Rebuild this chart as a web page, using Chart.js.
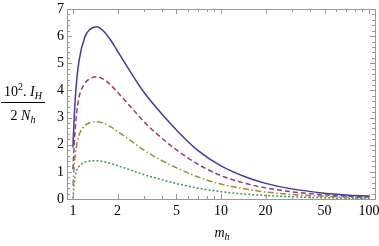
<!DOCTYPE html>
<html>
<head>
<meta charset="utf-8">
<script src="https://cdn.jsdelivr.net/npm/chart.js@4.4.1/dist/chart.umd.min.js"></script>
<style>body{margin:0;background:#fff}</style>
</head>
<body>
<canvas id="myChart" width="379" height="246"></canvas>
<script>
// values
const mValues=[1,1.02,1.05,1.1,1.2,1.3,1.45,1.6,1.8,2,2.5,3,4,5,7,10,15,20,30,50,70,100];
const curveSolid=[1.9,3.0,4.1,5.1,5.95,6.25,6.35,6.2,5.85,5.45,4.6,3.95,3.12,2.54,1.78,1.22,0.79,0.575,0.373,0.216,0.151,0.105];
const curveDashed=[1.1,2.0,2.95,3.75,4.25,4.43,4.5,4.42,4.2,3.93,3.35,2.86,2.23,1.81,1.28,0.86,0.56,0.41,0.265,0.153,0.107,0.075];
const curveDashDot=[0.5,1.25,1.85,2.35,2.7,2.81,2.85,2.8,2.66,2.49,2.12,1.81,1.41,1.15,0.81,0.55,0.36,0.26,0.17,0.098,0.068,0.048];
const curveDotted=[0.02,0.6,0.98,1.2,1.35,1.4,1.41,1.38,1.31,1.23,1.05,0.9,0.71,0.57,0.4,0.27,0.175,0.13,0.084,0.048,0.034,0.024];

const xTickValues=[1,2,3,4,5,6,7,8,9,10,20,30,40,50,60,70,80,90,100];
const xTickLabels=[1,2,5,10,20,50,100];
const yTickLabels=[0,1,2,3,4,5,6,7];

const serif='"Liberation Serif", "DejaVu Serif", serif';
const toPoints=(ys)=>mValues.map((m,i)=>({x:m,y:ys[i]}));

const lineSet=(data,color,dash)=>({
    data:toPoints(data),
    borderColor:color,
    borderWidth:1.5,
    borderDash:dash,
    pointRadius:0,
    fill:false,
    cubicInterpolationMode:'monotone'
});

// frame with inward ticks, like the original
const framePlugin={
    id:'frame',
    afterDraw(chart){
        const {ctx,chartArea:a,scales:{x,y}}=chart;
        ctx.save();
        ctx.strokeStyle='#999';
        ctx.lineWidth=1;
        ctx.strokeRect(Math.round(a.left)+0.5,Math.round(a.top)+0.5,Math.round(a.right-a.left),Math.round(a.bottom-a.top));
        ctx.beginPath();
        for(const t of x.ticks){
            const px=Math.round(x.getPixelForValue(t.value))+0.5;
            const len=xTickLabels.includes(t.value)?5:3;
            ctx.moveTo(px,a.bottom);ctx.lineTo(px,a.bottom-len);
            ctx.moveTo(px,a.top);ctx.lineTo(px,a.top+len);
        }
        for(const t of y.ticks){
            const py=Math.round(y.getPixelForValue(t.value))+0.5;
            const len=yTickLabels.includes(t.value)?5:3;
            ctx.moveTo(a.left,py);ctx.lineTo(a.left+len,py);
            ctx.moveTo(a.right,py);ctx.lineTo(a.right-len,py);
        }
        ctx.stroke();
        ctx.restore();
    }
};

// axis titles drawn as pieces (sub/superscripts)
const drawPieces=(ctx,pieces,cx,baseline)=>{
    let w=0;
    for(const p of pieces){ctx.font=p.font;w+=ctx.measureText(p.t).width;}
    let xx=cx-w/2;
    for(const p of pieces){
        ctx.font=p.font;
        ctx.fillText(p.t,xx,baseline+(p.dy||0));
        xx+=ctx.measureText(p.t).width;
    }
    return w;
};

const titlePlugin={
    id:'titles',
    afterDraw(chart){
        const ctx=chart.ctx;
        ctx.save();
        ctx.fillStyle='#000';
        ctx.textBaseline='alphabetic';
        ctx.textAlign='left';
        const n=`14px ${serif}`, s=`10px ${serif}`, ni=`italic 14px ${serif}`, si=`italic 10px ${serif}`;
        drawPieces(ctx,[{t:'10',font:n},{t:'2',font:s,dy:-6},{t:'. ',font:n},{t:'I',font:ni},{t:'H',font:si,dy:3}],23,96);
        ctx.strokeStyle='#000';
        ctx.lineWidth=1;
        ctx.beginPath();ctx.moveTo(1,102.5);ctx.lineTo(45,102.5);ctx.stroke();
        drawPieces(ctx,[{t:'2 ',font:n},{t:'N',font:ni},{t:'h',font:si,dy:3}],23,120);
        drawPieces(ctx,[{t:'m',font:ni},{t:'h',font:si,dy:3}],222,237);
        ctx.restore();
    }
};

const ctx=document.getElementById('myChart');
const myChart=new Chart(ctx,{
    type:'line',
    data:{
        datasets:[
            lineSet(curveSolid,'rgb(61,61,153)',[]),
            lineSet(curveDashed,'rgb(153,61,113)',[5,3]),
            lineSet(curveDashDot,'rgb(153,139,61)',[6,2.5,1.5,2.5]),
            lineSet(curveDotted,'rgb(61,153,83)',[2,2])
        ]
    },
    options:{
        responsive:false,
        animation:false,
        events:[],
        layout:{padding:{left:0,right:4,top:9,bottom:0}},
        plugins:{legend:{display:false},tooltip:{enabled:false}},
        scales:{
            x:{
                type:'logarithmic',
                min:0.912,
                max:109.6,
                afterBuildTicks:(s)=>{s.ticks=xTickValues.map(v=>({value:v}));},
                afterFit:(s)=>{s.height=47;s.paddingLeft=0;s.paddingRight=0;},
                grid:{display:false,drawTicks:false},
                border:{display:false},
                ticks:{
                    autoSkip:false,maxRotation:0,minRotation:0,padding:4,color:'#000',
                    font:{family:serif,size:14},
                    callback:(v)=>xTickLabels.includes(v)?String(v):''
                }
            },
            y:{
                type:'linear',
                min:0,
                max:7,
                afterBuildTicks:(s)=>{
                    const t=[];
                    for(let i=0;i<=35;i++)t.push({value:i/5});
                    s.ticks=t;
                },
                afterFit:(s)=>{s.width=67;s.paddingTop=0;s.paddingBottom=0;},
                grid:{display:false,drawTicks:false},
                border:{display:false},
                ticks:{
                    autoSkip:false,padding:3,color:'#000',
                    font:{family:serif,size:14},
                    callback:(v)=>yTickLabels.includes(v)?String(v):''
                }
            }
        }
    },
    plugins:[framePlugin,titlePlugin]
});
</script>
</body>
</html>
